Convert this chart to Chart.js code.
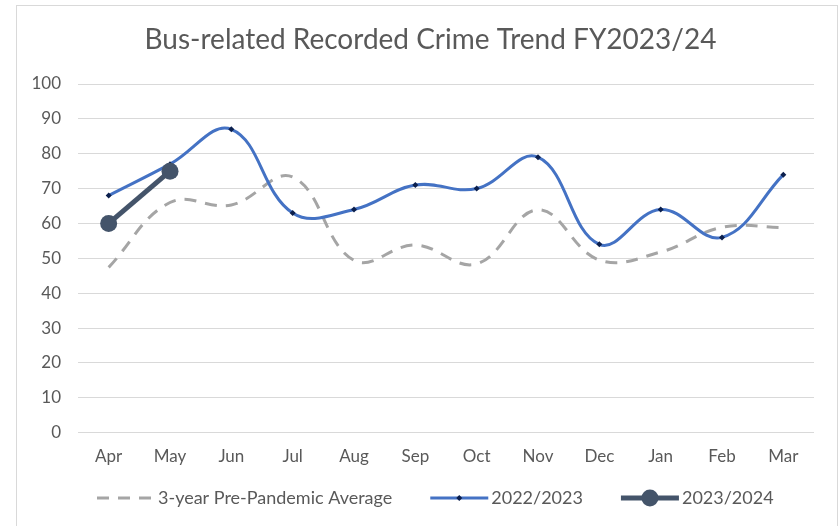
<!DOCTYPE html>
<html>
<head>
<meta charset="utf-8">
<script src="https://cdn.jsdelivr.net/npm/chart.js@4"></script>
<style>
  body { margin: 0; background: #fff; }
  #frame { position: absolute; left: 16px; top: 5px; width: 820px; height: 560px; border: 1px solid #d9d9d9; }
  #wrap { position: absolute; left: 0; top: 0; width: 840px; height: 526px; }
</style>
</head>
<body>
<div id="frame"></div>
<div id="wrap"><canvas id="chart" width="840" height="526"></canvas></div>
<script>
const months = ['Apr', 'May', 'Jun', 'Jul', 'Aug', 'Sep', 'Oct', 'Nov', 'Dec', 'Jan', 'Feb', 'Mar'];
const prePandemicAvg = [47.4, 66, 65.3, 73.3, 49.4, 53.8, 48.4, 63.9, 49.5, 51.8, 58.9, 58.8];
const fy2022 = [68, 77, 87, 63, 64, 71, 70, 79, 54, 64, 56, 74];
const fy2023 = [60, 75];
const yTicks = [0, 10, 20, 30, 40, 50, 60, 70, 80, 90, 100];
const chartTitle = 'Bus-related Recorded Crime Trend FY2023/24';

const FONT = 'Lato, "Noto Sans", sans-serif';
const TEXT = '#595959';

// title sits centred on the frame, not on the canvas, so it is drawn here
const frameTitle = {
    id: 'frameTitle',
    afterDraw(chart) {
        const ctx = chart.ctx;
        ctx.save();
        ctx.font = '28px ' + FONT;
        ctx.fillStyle = TEXT;
        ctx.textAlign = 'center';
        ctx.textBaseline = 'middle';
        ctx.fillText(chartTitle, 430.5, 40);
        ctx.restore();
    }
};

// legend drawn by hand: sample line with the marker, then the label
const lineLegend = {
    id: 'lineLegend',
    afterDraw(chart) {
        const ctx = chart.ctx;
        const y = 498;
        const sampleLen = 58;
        ctx.save();
        ctx.font = '18px ' + FONT;
        ctx.textBaseline = 'middle';
        let x = 97;
        chart.data.datasets.forEach(ds => {
            const cx = x + sampleLen / 2;
            ctx.save();
            ctx.strokeStyle = ds.borderColor;
            ctx.lineWidth = ds.borderWidth;
            ctx.setLineDash(ds.borderDash || []);
            ctx.beginPath();
            ctx.moveTo(x, y);
            ctx.lineTo(x + sampleLen, y);
            ctx.stroke();
            if (ds.pointRadius > 0) {
                const r = ds.pointRadius;
                ctx.fillStyle = ds.pointBackgroundColor;
                ctx.beginPath();
                if (ds.pointStyle === 'rectRot') {
                    ctx.moveTo(cx, y - r);
                    ctx.lineTo(cx + r, y);
                    ctx.lineTo(cx, y + r);
                    ctx.lineTo(cx - r, y);
                } else {
                    ctx.arc(cx, y, r, 0, Math.PI * 2);
                }
                ctx.closePath();
                ctx.fill();
            }
            ctx.restore();
            ctx.fillStyle = TEXT;
            ctx.fillText(ds.label, x + sampleLen + 3, y);
            x += sampleLen + 3 + ctx.measureText(ds.label).width + 38;
        });
        ctx.restore();
    }
};

new Chart(document.getElementById('chart'), {
    type: 'line',
    data: {
        labels: months,
        datasets: [
            {
                label: '3-year Pre-Pandemic Average',
                data: prePandemicAvg,
                borderColor: '#a5a5a5',
                borderWidth: 3,
                borderDash: [12, 9],
                pointRadius: 0,
                tension: 0.4,
                order: 3
            },
            {
                label: '2022/2023',
                data: fy2022,
                borderColor: '#4472c4',
                borderWidth: 3,
                pointStyle: 'rectRot',
                pointRadius: 3,
                pointBackgroundColor: '#0b1f4d',
                pointBorderColor: '#0b1f4d',
                pointBorderWidth: 0,
                tension: 0.4,
                order: 2
            },
            {
                label: '2023/2024',
                data: fy2023,
                borderColor: '#44546a',
                borderWidth: 5,
                pointStyle: 'circle',
                pointRadius: 8.5,
                pointBackgroundColor: '#44546a',
                pointBorderColor: '#44546a',
                pointBorderWidth: 0,
                tension: 0,
                order: 1
            }
        ]
    },
    options: {
        responsive: false,
        animation: false,
        layout: { padding: { left: 0, right: 26, top: 84, bottom: 53 } },
        plugins: {
            legend: { display: false },
            tooltip: { enabled: false },
            title: { display: false }
        },
        scales: {
            x: {
                offset: true,
                grid: { display: false },
                border: { display: false },
                ticks: { color: TEXT, font: { family: FONT, size: 17 }, padding: 6 }
            },
            y: {
                min: 0,
                max: 100,
                afterBuildTicks: scale => { scale.ticks = yTicks.map(v => ({ value: v })); },
                afterFit: scale => { scale.width = 78; },
                grid: { color: '#d9d9d9', lineWidth: 1, drawTicks: false },
                border: { display: false },
                ticks: { color: TEXT, font: { family: FONT, size: 17 }, padding: 17 }
            }
        }
    },
    plugins: [frameTitle, lineLegend]
});
</script>
</body>
</html>
